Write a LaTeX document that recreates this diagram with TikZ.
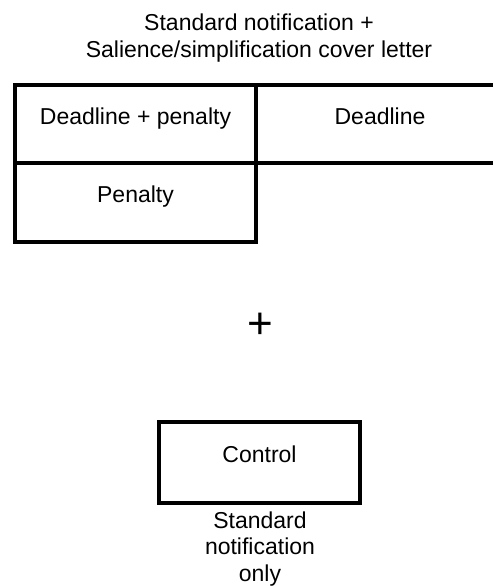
\documentclass[tikz,border=0pt]{standalone}
\usepackage{fontspec}
\setmainfont{Liberation Sans}
\usepackage{tikz}
\usetikzlibrary{positioning}

\tikzset{
  thick line/.style={line width=4.5pt},
  lbl/.style={font=\fontsize{23}{28}\selectfont, inner sep=0pt, anchor=base, align=center},
  ctrlbox/.style={draw, thick line, inner sep=0pt, minimum width=201pt, minimum height=81pt,
    text height=17pt, text depth=17pt, font=\fontsize{23}{28}\selectfont}
}

\begin{document}
\begin{tikzpicture}[x=1pt,y=-1pt]
\useasboundingbox (0,0) rectangle (493,586);

\node[lbl] (title) at (259,58) {Standard notification +\\Salience/simplification cover letter};

\draw[thick line] (493,85) -- (15,85) -- (15,242) -- (256,242) -- (256,85);
\draw[thick line] (15,163) -- (493,163);

\node[lbl] (dlpen) at (135.5,124) {Deadline + penalty};
\node[lbl] (dl) at (380,124) {Deadline};
\node[lbl] (pen) at (135.5,202.5) {Penalty};

\node[lbl, font=\fontsize{44}{50}\selectfont] (plus) at (260,338.5) {+};

\node[ctrlbox] (ctrl) at (259.5,462.5) {Control};
\node[lbl, font=\fontsize{23}{26.5}\selectfont] (ctrlnote) at (260,581) {Standard\\notification\\only};
\end{tikzpicture}
\end{document}
